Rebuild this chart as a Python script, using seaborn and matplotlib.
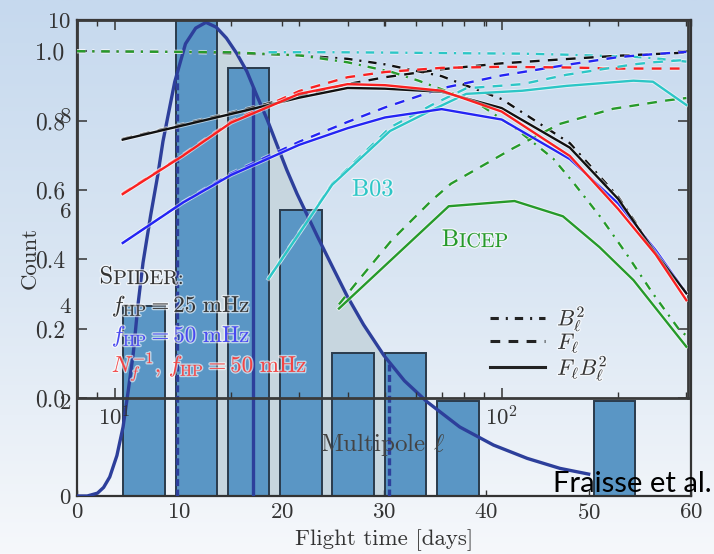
import numpy as np
import pandas as pd
import matplotlib
matplotlib.use("Agg")
import matplotlib.pyplot as plt
from matplotlib.lines import Line2D
from matplotlib.colors import LinearSegmentedColormap
from matplotlib.ticker import FixedLocator, FuncFormatter, NullFormatter, LogLocator
import matplotlib.patheffects as pe
import seaborn as sns

# ---------------------------------------------------------------------------
# Balloon flight durations (histogram) and the fitted duration distribution
# ---------------------------------------------------------------------------
bin_centers = [6.55, 11.66, 16.77, 21.88, 26.99, 32.10, 37.21, 52.54]
flight_counts = [4, 10, 9, 6, 3, 3, 2, 2]

fit_days = [0.0, 1.0, 2.0, 2.6, 3.2, 3.9, 4.5, 5.0, 5.5, 5.95, 6.45, 7.2, 7.9, 8.4,
            9.55, 10.6, 11.6, 12.6, 13.6, 14.6, 15.6, 16.6, 17.6, 18.6, 19.5, 20.5,
            21.5, 22.5, 23.5, 25.0, 26.4, 28.0, 30.0, 32.0, 34.2, 37.4, 40.7, 44.0,
            47.2, 50.0]
fit_counts = [0.0, 0.0, 0.06, 0.18, 0.40, 0.85, 1.45, 2.2, 3.0, 4.0, 4.9, 5.9, 6.75, 7.45,
              8.7, 9.5, 9.83, 9.95, 9.85, 9.62, 9.3, 8.92, 8.4, 7.9, 7.4, 6.85,
              6.35, 5.9, 5.45, 4.8, 4.2, 3.6, 2.95, 2.42, 1.98, 1.45, 1.07, 0.79,
              0.58, 0.46]

interval_days = [9.78, 30.5]   # credible interval of the fit
median_day = [17.23]

# ---------------------------------------------------------------------------
# Transfer functions versus multipole
# ---------------------------------------------------------------------------
ell_spider = [10.5, 15, 20, 30, 40, 50, 70, 100, 150, 200, 250, 300]
spider25_fb2 = [0.745, 0.786, 0.819, 0.866, 0.894, 0.892, 0.883, 0.836, 0.722, 0.574, 0.417, 0.302]
spider25_f = [0.747, 0.789, 0.822, 0.872, 0.905, 0.925, 0.948, 0.965, 0.978, 0.987, 0.992, 0.996]
spider50_fb2 = [0.447, 0.563, 0.643, 0.730, 0.778, 0.809, 0.833, 0.803, 0.689, 0.561, 0.426, 0.302]
spider50_f = [0.447, 0.564, 0.647, 0.739, 0.796, 0.838, 0.893, 0.930, 0.962, 0.983, 0.992, 0.998]
spider_nf_fb2 = [0.588, 0.698, 0.794, 0.877, 0.905, 0.902, 0.886, 0.826, 0.698, 0.545, 0.414, 0.282]
spider_nf_f = [0.590, 0.700, 0.797, 0.885, 0.925, 0.940, 0.952, 0.955, 0.953, 0.950, 0.950, 0.950]

ell_beam = [8, 15, 20, 30, 40, 50, 70, 100, 150, 200, 250, 300]
spider_b2 = [1.0, 0.998, 0.994, 0.988, 0.978, 0.962, 0.928, 0.862, 0.735, 0.580, 0.420, 0.305]

ell_b03 = [25, 36.5, 51.5, 66, 81, 113, 147, 219, 246, 300]
b03_fb2 = [0.344, 0.615, 0.770, 0.830, 0.877, 0.886, 0.900, 0.915, 0.912, 0.845]
b03_f = [0.345, 0.618, 0.780, 0.845, 0.893, 0.905, 0.932, 0.962, 0.968, 0.975]
b03_b2 = [0.997, 0.997, 0.996, 0.995, 0.994, 0.993, 0.990, 0.984, 0.980, 0.970]

ell_bicep_fb2 = [38, 73, 108, 144, 179, 219, 300]
bicep_fb2 = [0.258, 0.553, 0.568, 0.524, 0.435, 0.340, 0.148]
ell_bicep_f = [38, 42, 52, 66, 74, 107, 141, 194, 267, 300]
bicep_f = [0.27, 0.33, 0.455, 0.57, 0.618, 0.72, 0.79, 0.834, 0.858, 0.865]
ell_bicep_b2 = [8, 20, 30, 40, 52, 61, 86, 109, 126, 136, 153, 180, 210, 246, 288, 300]
bicep_b2 = [1.0, 0.997, 0.988, 0.968, 0.940, 0.915, 0.853, 0.776, 0.720, 0.690,
            0.622, 0.522, 0.416, 0.301, 0.196, 0.180]

series = [
    ("spider25 B2", "B2", ell_beam, spider_b2),
    ("bicep B2", "B2", ell_bicep_b2, bicep_b2),
    ("b03 B2", "B2", ell_b03, b03_b2),
    ("spider25 F", "F", ell_spider, spider25_f),
    ("spider50 F", "F", ell_spider, spider50_f),
    ("spidernf F", "F", ell_spider, spider_nf_f),
    ("b03 F", "F", ell_b03, b03_f),
    ("bicep F", "F", ell_bicep_f, bicep_f),
    ("b03 FB2", "FB2", ell_b03, b03_fb2),
    ("bicep FB2", "FB2", ell_bicep_fb2, bicep_fb2),
    ("spider50 FB2", "FB2", ell_spider, spider50_fb2),
    ("spider25 FB2", "FB2", ell_spider, spider25_fb2),
    ("spidernf FB2", "FB2", ell_spider, spider_nf_fb2),
]
transfer = pd.concat(
    [pd.DataFrame({"curve": name, "quantity": q, "ell": l, "value": v})
     for name, q, l, v in series],
    ignore_index=True,
)

c_black, c_blue, c_red = "#111111", "#2424f4", "#fa2020"
c_cyan, c_green = "#2cc6c6", "#269a2a"
curve_colors = {
    "spider25 B2": c_black, "spider25 F": c_black, "spider25 FB2": c_black,
    "spider50 F": c_blue, "spider50 FB2": c_blue,
    "spidernf F": c_red, "spidernf FB2": c_red,
    "b03 B2": c_cyan, "b03 F": c_cyan, "b03 FB2": c_cyan,
    "bicep B2": c_green, "bicep F": c_green, "bicep FB2": c_green,
}
dash_b2 = (6, 5, 1.5, 5)
dash_f = (7, 6)
quantity_dashes = {"B2": dash_b2, "F": dash_f, "FB2": ""}

# ---------------------------------------------------------------------------
# Styling
# ---------------------------------------------------------------------------
plt.rcParams.update({
    "font.family": ["cmr10"],
    "mathtext.fontset": "cm",
    "axes.formatter.use_mathtext": True,
    "axes.unicode_minus": False,
    "lines.scale_dashes": False,
})

ink = "#333333"
bar_face = "#5a96c5"
bar_edge = "#2a3b4c"
fill_col = "#c7d6df"
navy = "#2d3f9b"
halo = [pe.withStroke(linewidth=3.0, foreground="white", alpha=0.55)]
text_halo = [pe.withStroke(linewidth=2.0, foreground="white", alpha=0.6)]

fig = plt.figure(figsize=(7.14, 5.54), dpi=100)

# sky-like vertical gradient behind everything
bg = fig.add_axes([0, 0, 1, 1], zorder=-10)
sky = LinearSegmentedColormap.from_list("sky", ["#c6d9ee", "#dae6f3", "#f6f8fb"])
bg.imshow(np.linspace(0, 1, 256)[:, None], aspect="auto", cmap=sky,
          extent=[0, 1, 0, 1], origin="upper")
bg.set_axis_off()

# ---------------------------- flight-time panel ----------------------------
ax_b = fig.add_axes([77 / 714, 58 / 554, 614 / 714, 476 / 554], zorder=1)
ax_b.set_facecolor("none")

lo, hi = interval_days
fd = np.asarray(fit_days)
fc = np.asarray(fit_counts)
inside = (fd > lo) & (fd < hi)
fill_x = np.concatenate([[lo], fd[inside], [hi]])
fill_y = np.interp(fill_x, fd, fc)
ax_b.fill_between(fill_x, 0, fill_y, color=fill_col, lw=0, zorder=1)

sns.histplot(x=bin_centers, weights=flight_counts, binwidth=5.11, binrange=(4.0, 55.1),
             shrink=0.795, color=bar_face, edgecolor=bar_edge, linewidth=1.4,
             alpha=1.0, ax=ax_b, zorder=2)

ax_b.vlines(interval_days, 0, np.interp(interval_days, fd, fc), colors=navy,
            linewidth=2.4, linestyles=(0, (5, 2.5)), zorder=3)
ax_b.vlines(median_day, 0, np.interp(median_day, fd, fc), colors=navy,
            linewidth=2.4, zorder=3)
sns.lineplot(x=fit_days, y=fit_counts, color=navy, linewidth=2.4, ax=ax_b, zorder=4)

ax_b.set_xlim(0, 60)
ax_b.set_ylim(0, 10)
ax_b.set_xticks(range(0, 61, 10))
ax_b.set_yticks(range(0, 11, 2))
ax_b.tick_params(axis="x", direction="in", top=True, length=4, width=1, color=ink,
                 labelsize=16.5, labelcolor=ink, pad=5)
ax_b.tick_params(axis="y", direction="in", length=0, labelsize=16.5,
                 labelcolor=ink, pad=4)
for sp in ax_b.spines.values():
    sp.set_color(ink)
    sp.set_linewidth(1.6)
ax_b.set_xlabel("Flight time [days]", fontsize=16.5, color=ink, va="center")
ax_b.xaxis.set_label_coords(0.5, -0.092)
ax_b.set_ylabel("Count", fontsize=16.5, color=ink, va="center")
ax_b.yaxis.set_label_coords(-0.077, 0.5)

# --------------------------- transfer-function panel ------------------------
ax_t = fig.add_axes([77 / 714, 156 / 554, 611 / 714, 378 / 554], zorder=2)
ax_t.set_facecolor("none")
ax_t.set_xscale("log")

sns.lineplot(data=transfer, x="ell", y="value", hue="curve", style="quantity",
             palette=curve_colors, dashes=quantity_dashes, estimator=None,
             linewidth=1.7, legend=False, ax=ax_t, zorder=5)
for ln in ax_t.get_lines():
    ln.set_path_effects(halo)

ax_t.set_xlim(8, 303)
ax_t.set_ylim(0, 1.09)
ax_t.set_yticks(np.arange(0, 1.01, 0.2))
ax_t.yaxis.set_major_formatter(FuncFormatter(lambda v, _: f"{v:.1f}"))
ax_t.xaxis.set_major_locator(FixedLocator([10, 100]))
ax_t.xaxis.set_minor_locator(LogLocator(base=10, subs=np.arange(2, 10)))
ax_t.xaxis.set_minor_formatter(NullFormatter())
ax_t.tick_params(which="major", direction="in", top=True, right=True, length=7,
                 width=1.1, color=ink, labelcolor=ink)
ax_t.tick_params(which="minor", direction="in", top=True, right=True, length=4,
                 width=1.0, color=ink)
ax_t.tick_params(axis="y", pad=8.5, labelsize=17)
ax_t.tick_params(axis="x", pad=5, labelsize=16.5)
for sp in ax_t.spines.values():
    sp.set_color("#3a3a3a")
    sp.set_linewidth(2.0)
ax_t.set_ylabel("")
ax_t.set_xlabel(r"Multipole $\ell$", fontsize=18, color="#444444", va="center")
ax_t.xaxis.set_label_coords(0.5, -0.124)

# experiment labels (small capitals built from two sizes)
overlay_texts = []
s_txt = ax_t.text(0.037, 0.304, "S", transform=ax_t.transAxes, fontsize=17.5,
                  color=ink, va="baseline", ha="left")
overlay_texts.append(s_txt)
overlay_texts.append(ax_t.annotate("PIDER:", xy=(1, 0), xycoords=s_txt, fontsize=14.5,
                                   color=ink, va="bottom", ha="left"))
overlay_texts.append(ax_t.text(0.057, 0.2275, r"$f_{\rm HP} = 25\ {\rm mHz}$",
                               transform=ax_t.transAxes, fontsize=16.5, color=ink,
                               va="baseline"))
overlay_texts.append(ax_t.text(0.057, 0.148, r"$f_{\rm HP} = 50\ {\rm mHz}$",
                               transform=ax_t.transAxes, fontsize=16.5, color="#4848f0",
                               va="baseline"))
overlay_texts.append(ax_t.text(0.057, 0.069, r"$N_f^{-1}$, $f_{\rm HP} = 50\ {\rm mHz}$",
                               transform=ax_t.transAxes, fontsize=16.5, color="#f24444",
                               va="baseline"))
overlay_texts.append(ax_t.text(0.450, 0.535, "B03", transform=ax_t.transAxes,
                               fontsize=17.5, color=c_cyan, va="baseline"))
b_txt = ax_t.text(0.597, 0.402, "B", transform=ax_t.transAxes, fontsize=17.5,
                  color=c_green, va="baseline")
overlay_texts.append(b_txt)
overlay_texts.append(ax_t.annotate("ICEP", xy=(1, 0), xycoords=b_txt, fontsize=14.5,
                                   color=c_green, va="bottom", ha="left"))

legend_handles = [
    Line2D([], [], color="#222222", lw=2.2, dashes=dash_b2),
    Line2D([], [], color="#222222", lw=2.2, dashes=dash_f),
    Line2D([], [], color="#222222", lw=2.2),
]
leg = ax_t.legend(legend_handles, [r"$B_\ell^2$", r"$F_\ell$", r"$F_\ell B_\ell^2$"],
                  loc="lower left", bbox_to_anchor=(0.676, 0.038), frameon=False,
                  fontsize=16, handlelength=2.48, handletextpad=0.54,
                  labelspacing=-0.1, borderaxespad=0, borderpad=0)
for t in leg.get_texts():
    t.set_color(ink)
    overlay_texts.append(t)
for t in overlay_texts:
    t.set_path_effects(text_halo)

fig.text(0.997, 0.1125, "Fraisse et al.", family="Lato", fontsize=21,
         color="black", ha="right", va="baseline")

fig.savefig("out.png", dpi=100)
